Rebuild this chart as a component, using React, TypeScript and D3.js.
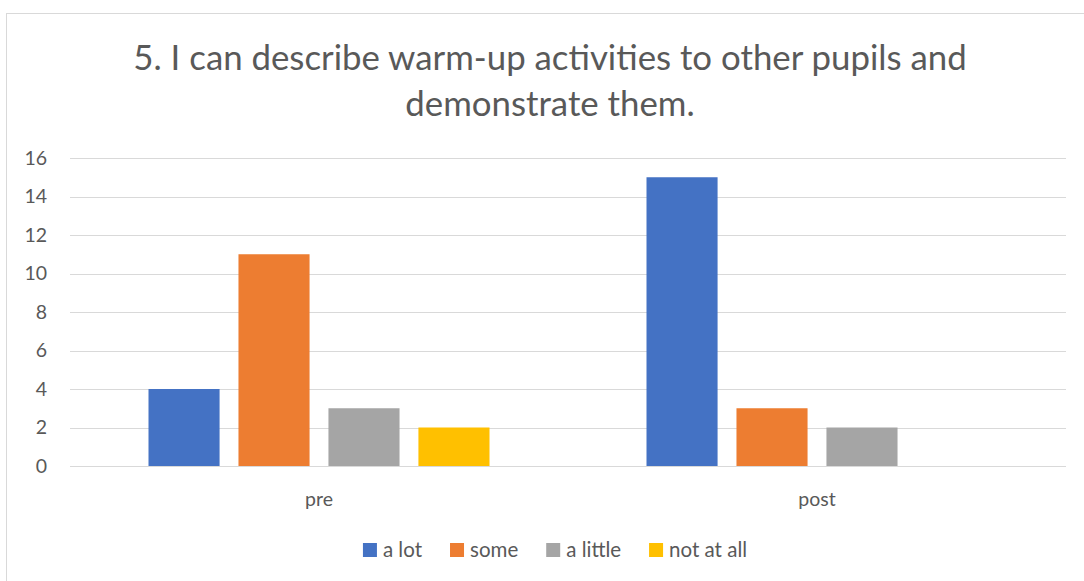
import React, { useEffect, useRef } from "react";
import * as d3 from "d3";

const categories = ["pre", "post"];
const seriesNames = ["a lot", "some", "a little", "not at all"];
const seriesColors = ["#4472C4", "#ED7D31", "#A5A5A5", "#FFC000"];
const preValues = [4, 11, 3, 2];
const postValues = [15, 3, 2, 0];
const yTicks = [0, 2, 4, 6, 8, 10, 12, 14, 16];
const titleLines = ["5. I can describe warm-up activities to other pupils and", "demonstrate them."];

const W = 1084;
const H = 581;
const FONT = "Lato, 'Open Sans', sans-serif";

export default function App() {
  const ref = useRef<SVGSVGElement>(null);

  useEffect(() => {
    const svg = d3.select(ref.current);
    svg.selectAll("*").remove();

    const values = [preValues, postValues];
    const left = 70, right = 1066, top = 158, bottom = 466;

    // chart border
    svg.append("rect").attr("x", 6.5).attr("y", 13.5).attr("width", 1086).attr("height", 600)
      .attr("fill", "#fff").attr("stroke", "#d9d9d9").attr("stroke-width", 1);

    // title
    svg.append("g").selectAll("text").data(titleLines).join("text")
      .attr("x", 550).attr("y", (_, i) => 70 + i * 46)
      .attr("text-anchor", "middle").attr("font-family", FONT).attr("font-size", 34.8)
      .attr("fill", "#595959").text(d => d);

    const y = d3.scaleLinear().domain([0, 16]).range([bottom, top]);
    const x0 = d3.scaleBand().domain(categories).range([left, right]);
    const x1 = d3.scaleBand().domain(seriesNames).range([0, 341]).paddingInner(0.21);

    // gridlines
    svg.append("g").selectAll("line").data(yTicks).join("line")
      .attr("x1", left).attr("x2", right)
      .attr("y1", d => Math.round(y(d)) + 0.5).attr("y2", d => Math.round(y(d)) + 0.5)
      .attr("stroke", "#d9d9d9").attr("stroke-width", 1);

    // y tick labels
    svg.append("g").selectAll("text").data(yTicks).join("text")
      .attr("x", 47).attr("y", d => y(d)).attr("dy", "0.35em")
      .attr("text-anchor", "end").attr("font-family", FONT).attr("font-size", 19.5)
      .attr("fill", "#595959").text(d => String(d));

    // bars
    const groups = svg.append("g").selectAll("g").data(categories).join("g")
      .attr("transform", c => `translate(${x0(c)! + x0.bandwidth() / 2 - 341 / 2},0)`);
    groups.selectAll("rect").data((c, i) => values[i].map((v, j) => ({ v, s: seriesNames[j], color: seriesColors[j] })))
      .join("rect")
      .attr("x", d => x1(d.s)!).attr("width", x1.bandwidth())
      .attr("y", d => y(d.v)).attr("height", d => y(0) - y(d.v))
      .attr("fill", d => d.color);

    // category labels
    svg.append("g").selectAll("text").data(categories).join("text")
      .attr("x", c => x0(c)! + x0.bandwidth() / 2).attr("y", 506)
      .attr("text-anchor", "middle").attr("font-family", FONT).attr("font-size", 19.5)
      .attr("fill", "#595959").text(c => c);

    // legend
    const lg = svg.append("g");
    const items = lg.selectAll("g").data(seriesNames).join("g");
    items.append("rect").attr("width", 14).attr("height", 14).attr("y", 543)
      .attr("fill", (_, i) => seriesColors[i]);
    const texts = items.append("text").attr("x", 20).attr("y", 557)
      .attr("font-family", FONT).attr("font-size", 20.5).attr("fill", "#595959")
      .text(d => d);
    const widths: number[] = [];
    texts.each(function () { widths.push((this as SVGTextElement).getComputedTextLength()); });
    const gap = 28;
    const total = widths.reduce((a, w) => a + 20 + w, 0) + gap * (widths.length - 1);
    let cx = 555 - total / 2;
    items.each(function (_, i) {
      d3.select(this).attr("transform", `translate(${cx},0)`);
      cx += 20 + widths[i] + gap;
    });
  }, []);

  return (
    <svg ref={ref} width={W} height={H} style={{ position: "absolute", left: 0, top: 0, background: "#fff" }} />
  );
}
